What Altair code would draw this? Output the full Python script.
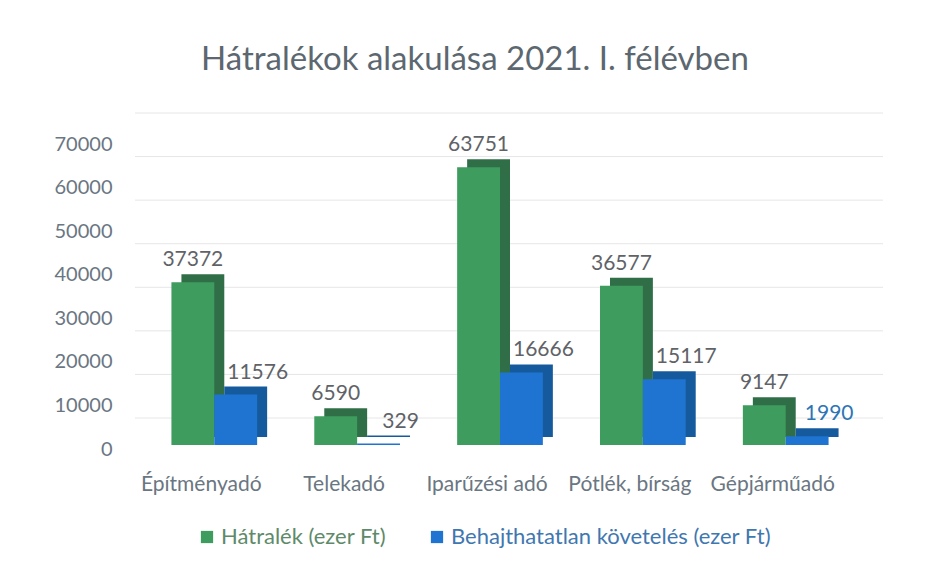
import altair as alt
import pandas as pd

categories = ["Építményadó", "Telekadó", "Iparűzési adó", "Pótlék, bírság", "Gépjárműadó"]
series_names = ["Hátralék (ezer Ft)", "Behajthatatlan követelés (ezer Ft)"]
hatralek = [37372, 6590, 63751, 36577, 9147]
behajthatatlan = [11576, 329, 16666, 15117, 1990]
y_ticks = [0, 10000, 20000, 30000, 40000, 50000, 60000, 70000]

rows = []
for c, a, b in zip(categories, hatralek, behajthatatlan):
    rows.append({"category": c, "series": series_names[0], "value": a})
    rows.append({"category": c, "series": series_names[1], "value": b})
df = pd.DataFrame(rows)
grid_df = pd.DataFrame({"v": y_ticks})

FONT = "Lato"
W, H = 760, 305
BAND = 760 / (5 - 0.4 + 0.72) * 0.6  # bandwidth of the category band
DEPTH = 10

front_colors = ["#3E9C5E", "#1E74D0"]
back_colors = ["#2F6E47", "#165A9E"]

x_enc = alt.X("category:N", sort=categories,
              scale=alt.Scale(paddingInner=0.4, paddingOuter=0.36),
              axis=alt.Axis(title=None, domain=False, ticks=False, labelAngle=0,
                            labelFontSize=21, labelFont=FONT, labelColor="#6A7682",
                            labelPadding=28, labelOffset=-13))
y_scale = alt.Scale(domain=[0, 70000], nice=False)
y_axis = alt.Axis(title=None, domain=False, ticks=False, grid=False, format="d",
                  values=y_ticks, labelFontSize=20, labelFont=FONT,
                  labelColor="#6A7682", labelPadding=8, labelOffset=4)
y_enc = alt.Y("value:Q", scale=y_scale, axis=y_axis)
xoff = alt.XOffset("series:N", sort=series_names,
                   scale=alt.Scale(domain=series_names))
xoff_back = alt.XOffset("series:N", sort=series_names,
                        scale=alt.Scale(domain=series_names, range=[DEPTH, BAND + DEPTH]))

base = alt.Chart(df)

grid = alt.Chart(grid_df).mark_rule(color="#E6E6E6", strokeWidth=1, yOffset=-27).encode(
    y=alt.Y("v:Q", scale=y_scale, axis=y_axis),
    x=alt.value(15), x2=alt.value(W + 3)
)

back = base.mark_bar(yOffset=-8).encode(
    x=x_enc, xOffset=xoff_back, y=y_enc,
    color=alt.Color("series:N", sort=series_names,
                    scale=alt.Scale(domain=series_names, range=back_colors), legend=None)
)

front = base.mark_bar().encode(
    x=x_enc, xOffset=xoff, y=y_enc,
    color=alt.Color("series:N", sort=series_names,
                    scale=alt.Scale(domain=series_names, range=front_colors),
                    legend=alt.Legend(title=None, orient="none", direction="horizontal",
                                      legendX=76, legendY=386, symbolType="square",
                                      symbolSize=150, labelFontSize=22, labelFont=FONT,
                                      labelColor={"expr": "datum.label == 'Hátralék (ezer Ft)' ? '#5E8A6A' : '#3F77B0'"},
                                      columnPadding=39, labelLimit=0,
                                      symbolStrokeWidth=0, labelOffset=3))
)

lab_green = base.transform_filter(alt.datum.series == series_names[0]).mark_text(
    baseline="bottom", dy=-12, fontSize=21, font=FONT, color="#5F6368"
).encode(x=x_enc, xOffset=xoff, y=y_enc, text=alt.Text("value:Q"))

lab_blue = base.transform_filter(alt.datum.series == series_names[1]).mark_text(
    baseline="bottom", dy=-12, dx=22, fontSize=21, font=FONT
).encode(x=x_enc, xOffset=xoff, y=y_enc, text=alt.Text("value:Q"),
         color=alt.condition(alt.datum.category == "Gépjárműadó",
                             alt.value("#2E75B6"), alt.value("#5F6368")))

chart = alt.layer(grid, back, front, lab_green, lab_blue).resolve_scale(
    color="independent", xOffset="independent"
).properties(
    width=W, height=H,
    background="white",
    title=alt.TitleParams("Hátralékok alakulása 2021. I. félévben", fontSize=33,
                          font=FONT, fontWeight="normal", color="#5C6770",
                          anchor="middle", dx=-25, offset=36),
    autosize=alt.AutoSizeParams(type="none"),
    padding={"left": 120, "top": 140, "right": 47, "bottom": 120},
).configure_view(strokeWidth=0, stroke="transparent")

chart.save("out.html", embed_options={"renderer": "svg", "actions": False})
